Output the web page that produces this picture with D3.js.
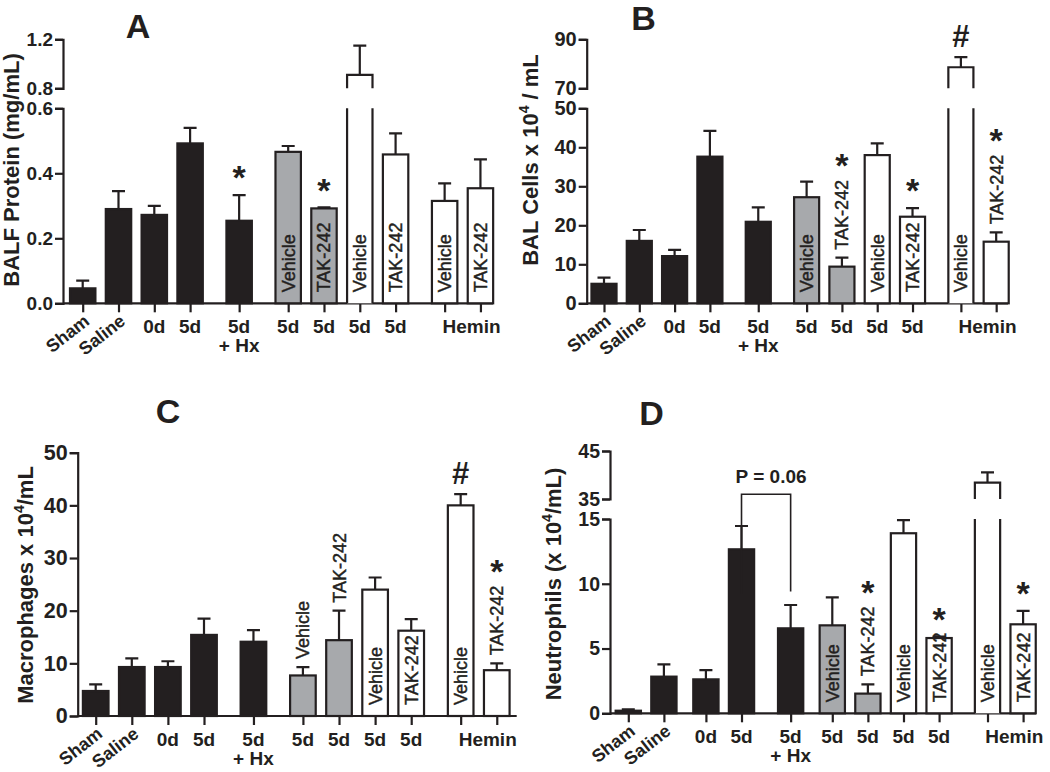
<!DOCTYPE html>
<html><head><meta charset="utf-8">
<script src="https://cdn.jsdelivr.net/npm/d3@7/dist/d3.min.js"></script>
<style>
body{margin:0;background:#fff;}
text{font-family:"Liberation Sans",Arial,Helvetica,sans-serif;fill:#231f20;}
</style></head>
<body><svg id="chart" width="1050" height="772"></svg>
<script>
// ---------- DATA ----------
const categories = ["Sham","Saline","0d","5d","5d","5d","5d","5d","5d","Hemin","Hemin"];
const subLabels  = ["","","","","+ Hx","","","","","",""];
const barFill    = ["black","black","black","black","black","gray","gray","white","white","white","white"];
const barText    = ["","","","","","Vehicle","TAK-242","Vehicle","TAK-242","Vehicle","TAK-242"];

const proteinMean = [0.046,0.290,0.272,0.492,0.254,0.466,0.292,0.909,0.458,0.315,0.354];
const proteinSem  = [0.024,0.055,0.028,0.048,0.079,0.018,0.003,0.239,0.065,0.054,0.089];

const balMean = [5.0,16.0,12.1,37.6,20.9,27.2,9.4,38.0,22.2,78.6,15.8];
const balSem  = [1.6,2.8,1.6,6.6,3.7,4.0,2.3,3.0,2.2,4.1,2.4];

const macMean = [4.75,9.3,9.3,15.4,14.1,7.7,14.4,24.0,16.2,40.0,8.7];
const macSem  = [1.25,1.65,1.1,3.1,2.2,1.6,5.6,2.3,2.2,2.15,1.3];

const neuMean = [0.2,2.83,2.62,12.66,6.56,6.79,1.52,13.9,5.81,38.4,6.87];
const neuSem  = [0.1,0.95,0.72,1.8,1.8,2.16,0.72,1.02,0.11,2.16,1.03];

const ticksA = {low:[0,0.2,0.4,0.6], high:[0.8,1.2]};
const ticksB = {low:[0,10,20,30,40,50], high:[70,90]};
const ticksC = {low:[0,10,20,30,40,50], high:[]};
const ticksD = {low:[0,5,10,15], high:[35,45]};

// label placement for labelled bars ("in" = inside bar, "above" = above error bar)
const labelPosA = ["","","","","","in","in","in","in","in","in"];
const labelPosB = ["","","","","","in","above","in","in","in","above"];
const labelPosC = ["","","","","","above","above","in","in","in","above"];
const labelPosD = ["","","","","","in","above","in","in","in","in"];

// significance marks: [bar index, symbol, anchor]
const marksA = [[4,"*","err"],[6,"*","err"]];
const marksB = [[6,"*","label"],[8,"*","err"],[9,"#","err"],[10,"*","label"]];
const marksC = [[9,"#","err"],[10,"*","label"]];
const marksD = [[6,"*","label"],[8,"*","err"],[10,"*","err"]];

// ---------- LAYOUT ----------
const colors = {black:"#231f20", gray:"#a7a9ac", white:"#ffffff"};
const ink = "#231f20";
const stdGaps = [0,0,0,0,0.37,0.37,0,0,0,0.37,0];
const panels = [
 {title:"A", tx:138, ty:38, mean:proteinMean, sem:proteinSem, ticks:ticksA, fmt:d3.format(".1f"), tf:19,
  labelPos:labelPosA, marks:marksA, axisX:63, y0:303.3, lowTop:108.3, highBot:88.3, highTop:39.3,
  lowMax:0.6, highMin:0.8, highMax:1.2, x0:82.7, step:35.8, xEnd:493, gaps:stdGaps,
  ylab:["BALF Protein (mg/mL)"], ylx:19, yly:170},
 {title:"B", tx:643.5, ty:30, mean:balMean, sem:balSem, ticks:ticksB, fmt:d3.format("d"), tf:20,
  labelPos:labelPosB, marks:marksB, axisX:586.7, y0:303.3, lowTop:108.3, highBot:88.3, highTop:39.3,
  lowMax:50, highMin:70, highMax:90, x0:604, step:35.3, xEnd:1008, gaps:stdGaps,
  ylab:["BAL Cells  x 10","4"," / mL"], ylx:538, yly:160},
 {title:"C", tx:168, ty:423, mean:macMean, sem:macSem, ticks:ticksC, fmt:d3.format("d"), tf:21.5,
  labelPos:labelPosC, marks:marksC, axisX:77.7, y0:716, lowTop:452.7, lowMax:50,
  x0:95.7, step:36.1, xEnd:516.7, gaps:stdGaps,
  ylab:["Macrophages x 10","4","/mL"], ylx:33, yly:585},
 {title:"D", tx:651.5, ty:425, mean:neuMean, sem:neuSem, ticks:ticksD, fmt:d3.format("d"), tf:19.5,
  labelPos:labelPosD, marks:marksD, axisX:610, y0:713.3, lowTop:519, highBot:499, highTop:451,
  lowMax:15, highMin:35, highMax:45, x0:628.3, step:35.6, xEnd:1036,
  gaps:[0,0,0.18,0,0.38,0.17,0,0,0,0.36,0],
  ylab:["Neutrophils (x 10","4","/mL)"], ylx:561, yly:584,
  bracket:{from:3,to:4,top:36,leftBottom:15.2,rightBottom:9.4,text:"P = 0.06"}}
];

const svg = d3.select("#chart");
svg.append("rect").attr("width",1050).attr("height",772).attr("fill","#fff");

panels.forEach(p => {
  const g = svg.append("g");
  const slots = []; let acc = 0;
  categories.forEach((c,i) => { acc += p.gaps[i]; slots.push(i + acc); });
  const x = d3.scaleLinear().domain([0,1]).range([p.x0, p.x0 + p.step]);
  const bw = p.step * 0.71;
  const yLow = d3.scaleLinear().domain([0,p.lowMax]).range([p.y0,p.lowTop]);
  const yHigh = p.highMin != null ? d3.scaleLinear().domain([p.highMin,p.highMax]).range([p.highBot,p.highTop]) : null;
  const y = v => (yHigh && v > p.lowMax) ? yHigh(v) : yLow(v);

  g.append("text").attr("x",p.tx).attr("y",p.ty).attr("text-anchor","middle")
   .attr("font-size",34).attr("font-weight","bold").text(p.title);

  const styleAxis = a => {
    a.selectAll("path,line").attr("stroke",ink).attr("stroke-width",2.2);
    a.selectAll("text").attr("font-size",p.tf).attr("font-weight","bold")
      .attr("font-family","'Liberation Sans',Arial,sans-serif").attr("fill",ink);
  };
  const axL = g.append("g").attr("transform",`translate(${p.axisX},0)`)
    .call(d3.axisLeft(yLow).tickValues(p.ticks.low).tickFormat(p.fmt).tickSizeOuter(0).tickSize(8).tickPadding(2));
  styleAxis(axL);
  if (yHigh) {
    const axH = g.append("g").attr("transform",`translate(${p.axisX},0)`)
      .call(d3.axisLeft(yHigh).tickValues(p.ticks.high).tickFormat(p.fmt).tickSizeOuter(0).tickSize(8).tickPadding(2));
    styleAxis(axH);
  }
  const yl = g.append("text").attr("transform",`translate(${p.ylx},${p.yly}) rotate(-90)`)
    .attr("text-anchor","middle").attr("font-size",22).attr("font-weight","bold");
  yl.append("tspan").text(p.ylab[0]);
  if (p.ylab.length > 1) {
    yl.append("tspan").attr("font-size",14).attr("dy",-9).text(p.ylab[1]);
    yl.append("tspan").attr("dy",9).text(p.ylab[2]);
  }

  g.append("line").attr("x1",p.axisX).attr("x2",p.xEnd).attr("y1",p.y0).attr("y2",p.y0)
   .attr("stroke",ink).attr("stroke-width",2.2);
  const axB = g.append("g").attr("transform",`translate(0,${p.y0})`)
    .call(d3.axisBottom(x).tickValues(slots).tickFormat("").tickSize(9).tickSizeOuter(0));
  axB.select(".domain").remove();
  axB.selectAll("line").attr("stroke",ink).attr("stroke-width",2.2);

  categories.forEach((c,i) => {
    const cx = x(slots[i]), v = p.mean[i], left = cx - bw/2, right = cx + bw/2;
    const fill = colors[barFill[i]];
    if (!(yHigh && v > p.lowMax)) {
      g.append("rect").attr("x",left).attr("y",y(v)).attr("width",bw).attr("height",p.y0 - y(v))
       .attr("fill",fill).attr("stroke",ink).attr("stroke-width",2.2);
    } else {
      g.append("rect").attr("x",left).attr("y",p.lowTop).attr("width",bw).attr("height",p.y0-p.lowTop)
       .attr("fill",fill);
      g.append("path").attr("d",`M${left},${p.y0}V${p.lowTop}M${right},${p.y0}V${p.lowTop}`)
       .attr("stroke",ink).attr("stroke-width",2.2).attr("fill","none");
      g.append("rect").attr("x",left).attr("y",y(v)).attr("width",bw).attr("height",p.highBot - y(v))
       .attr("fill",fill);
      g.append("path").attr("d",`M${left},${p.highBot}V${y(v)}H${right}V${p.highBot}`)
       .attr("stroke",ink).attr("stroke-width",2.2).attr("fill","none");
    }
    const ey = y(v + p.sem[i]);
    g.append("path").attr("d",`M${cx},${y(v)}V${ey}M${cx-6.5},${ey}H${cx+6.5}`)
     .attr("stroke",ink).attr("stroke-width",2.2).attr("fill","none");
  });

  const labelTop = {};
  categories.forEach((c,i) => {
    if (!barText[i]) return;
    const cx = x(slots[i]);
    const ey = y(p.mean[i] + p.sem[i]);
    const base = p.labelPos[i] === "above" ? ey - 8 : p.y0 - 11;
    const t = g.append("text").attr("transform",`translate(${cx+6.5},${base}) rotate(-90)`)
      .attr("text-anchor","start").attr("font-size",18)
      .attr("stroke",ink).attr("stroke-width",0.45).text(barText[i]);
    labelTop[i] = base - t.node().getComputedTextLength();
  });

  p.marks.forEach(([i,sym,anchor]) => {
    const cx = x(slots[i]);
    const ay = anchor === "label" ? labelTop[i] : y(p.mean[i] + p.sem[i]);
    const size = sym === "*" ? 34 : 31;
    const center = ay - (anchor === "label" ? 18 : 21);
    const base = sym === "*" ? center + 0.45*size : center + 0.35*size;
    g.append("text").attr("x",cx).attr("y",base).attr("text-anchor","middle")
     .attr("font-size",size).attr("font-weight","bold").text(sym);
  });

  categories.forEach((c,i) => {
    const cx = x(slots[i]);
    if (i < 2) {
      g.append("text").attr("transform",`translate(${cx+8},${p.y0+20}) rotate(-38)`)
       .attr("text-anchor","end").attr("font-size",18).attr("font-weight","bold").text(c);
    } else if (c === "Hemin") {
      if (i === 9) {
        const mid = (x(slots[9]) + x(slots[10]))/2 + 9;
        g.append("text").attr("x",mid).attr("y",p.y0+30).attr("text-anchor","middle")
         .attr("font-size",19).attr("font-weight","bold").text(c);
      }
    } else {
      g.append("text").attr("x",cx).attr("y",p.y0+30).attr("text-anchor","middle")
       .attr("font-size",19).attr("font-weight","bold").text(c);
      if (subLabels[i]) g.append("text").attr("x",cx).attr("y",p.y0+49).attr("text-anchor","middle")
       .attr("font-size",19).attr("font-weight","bold").text(subLabels[i]);
    }
  });

  if (p.bracket) {
    const b = p.bracket;
    const x1 = x(slots[b.from]), x2 = x(slots[b.to]), ty = y(b.top);
    g.append("path").attr("d",`M${x1},${y(b.leftBottom)}V${ty}H${x2}V${y(b.rightBottom)}`)
     .attr("stroke",ink).attr("stroke-width",1.6).attr("fill","none");
    g.append("text").attr("x",(x1+x2)/2+5).attr("y",ty-11).attr("text-anchor","middle")
     .attr("font-size",19).attr("font-weight","bold").text(b.text);
  }
});
</script></body></html>
